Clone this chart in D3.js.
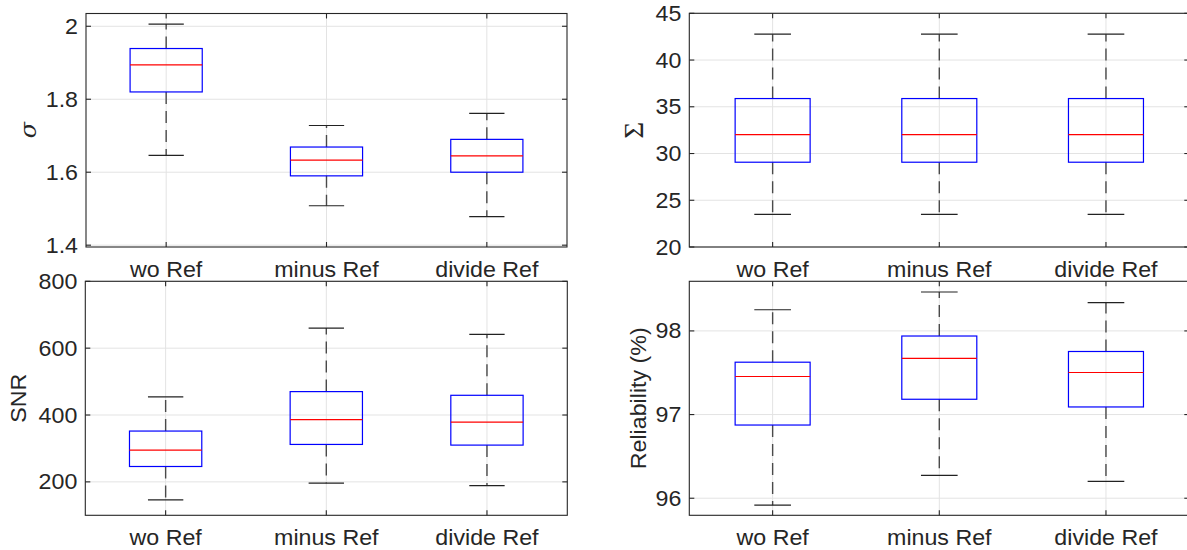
<!DOCTYPE html>
<html>
<head>
<meta charset="utf-8">
<script src="https://cdn.jsdelivr.net/npm/d3@7"></script>
<style>
  html, body { margin: 0; padding: 0; background: #fff; overflow: hidden; }
  svg { display: block; }
  text { font-family: "Liberation Sans", Arial, sans-serif; fill: #262626; }
</style>
</head>
<body>
<svg id="chart" width="1187" height="550"></svg>
<script>
// Categories shared by every panel
const categories = ["wo Ref", "minus Ref", "divide Ref"];

// Five-number summaries per category: [lower whisker, Q1, median, Q3, upper whisker]
const sigmaStats = [
  [1.646, 1.820, 1.894, 1.939, 2.006],
  [1.508, 1.590, 1.633, 1.669, 1.728],
  [1.478, 1.600, 1.645, 1.690, 1.761]
];
const sumStats = [
  [23.50, 29.07, 32.02, 35.88, 42.77],
  [23.50, 29.07, 32.02, 35.88, 42.77],
  [23.50, 29.07, 32.02, 35.88, 42.77]
];
const snrStats = [
  [146, 246, 295, 352, 454],
  [196, 312, 386, 470, 660],
  [189, 310, 379, 459, 641]
];
const reliabilityStats = [
  [95.917, 96.875, 97.455, 97.626, 98.253],
  [96.273, 97.183, 97.671, 97.939, 98.465],
  [96.201, 97.091, 97.503, 97.754, 98.338]
];

// Tick values and their labels
const sigmaTicks = [1.4, 1.6, 1.8, 2.0];
const sigmaTickLabels = ["1.4", "1.6", "1.8", "2"];
const sumTicks = [20, 25, 30, 35, 40, 45];
const sumTickLabels = ["20", "25", "30", "35", "40", "45"];
const snrTicks = [200, 400, 600, 800];
const snrTickLabels = ["200", "400", "600", "800"];
const reliabilityTicks = [96, 97, 98];
const reliabilityTickLabels = ["96", "97", "98"];

const panels = [
  { stats: sigmaStats, ticks: sigmaTicks, labels: sigmaTickLabels, domain: [1.395, 2.035],
    box: { left: 86, right: 567, top: 13.5, bottom: 247 },
    ylabel: "σ", ylabelFont: "italic 22px 'DejaVu Serif', 'Liberation Serif', serif", ylabelX: 28 },
  { stats: sumStats, ticks: sumTicks, labels: sumTickLabels, domain: [20, 45],
    box: { left: 689.3, right: 1189.3, top: 13.3, bottom: 247 },
    ylabel: "Σ", ylabelFont: "27px 'Liberation Serif', 'DejaVu Serif', serif", ylabelX: 634 },
  { stats: snrStats, ticks: snrTicks, labels: snrTickLabels, domain: [100, 800],
    box: { left: 85.3, right: 567.3, top: 281.3, bottom: 515.3 },
    ylabel: "SNR", ylabelFont: "21.5px 'Liberation Sans', Arial, sans-serif", ylabelX: 18 },
  { stats: reliabilityStats, ticks: reliabilityTicks, labels: reliabilityTickLabels, domain: [95.796, 98.593],
    box: { left: 689.3, right: 1189.3, top: 281.3, bottom: 515.3 },
    ylabel: "Reliability (%)", ylabelFont: "21.5px 'Liberation Sans', Arial, sans-serif", ylabelX: 638 }
];

const svg = d3.select("#chart");
const frameColor = "#262626";
const gridColor = "#e3e3e3";
const tickLen = 5;
const boxHalf = 0.225;   // half box width, in category units
const capHalf = 0.11;    // half whisker-cap width
const stretch = 1.08;    // horizontal stretch applied to the text glyphs

panels.forEach(p => {
  const b = p.box;
  const x = d3.scaleLinear().domain([0.5, categories.length + 0.5]).range([b.left, b.right]);
  const y = d3.scaleLinear().domain(p.domain).range([b.bottom, b.top]);
  const g = svg.append("g");
  const idx = d3.range(categories.length);

  // grid
  g.selectAll(".gy").data(p.ticks).join("line")
    .attr("x1", b.left).attr("x2", b.right)
    .attr("y1", d => y(d)).attr("y2", d => y(d))
    .attr("stroke", gridColor).attr("stroke-width", 1);
  g.selectAll(".gx").data(idx).join("line")
    .attr("x1", i => x(i + 1)).attr("x2", i => x(i + 1))
    .attr("y1", b.top).attr("y2", b.bottom)
    .attr("stroke", gridColor).attr("stroke-width", 1);

  // whiskers
  const whisk = g.append("g").attr("stroke", "#4a4a4a").attr("stroke-width", 1.4)
    .attr("stroke-dasharray", "12,7");
  whisk.selectAll(".wu").data(idx).join("line")
    .attr("x1", i => x(i + 1)).attr("x2", i => x(i + 1))
    .attr("y1", i => y(p.stats[i][3])).attr("y2", i => y(p.stats[i][4]));
  whisk.selectAll(".wl").data(idx).join("line")
    .attr("x1", i => x(i + 1)).attr("x2", i => x(i + 1))
    .attr("y1", i => y(p.stats[i][1])).attr("y2", i => y(p.stats[i][0]));

  // whisker caps
  const caps = g.append("g").attr("stroke", "#222").attr("stroke-width", 1.2);
  [0, 4].forEach(k => {
    caps.selectAll(".c" + k).data(idx).join("line")
      .attr("x1", i => x(i + 1 - capHalf)).attr("x2", i => x(i + 1 + capHalf))
      .attr("y1", i => y(p.stats[i][k])).attr("y2", i => y(p.stats[i][k]));
  });

  // boxes
  g.selectAll(".box").data(idx).join("rect")
    .attr("x", i => x(i + 1 - boxHalf))
    .attr("width", i => x(i + 1 + boxHalf) - x(i + 1 - boxHalf))
    .attr("y", i => y(p.stats[i][3]))
    .attr("height", i => y(p.stats[i][1]) - y(p.stats[i][3]))
    .attr("fill", "none").attr("stroke", "#0000ff").attr("stroke-width", 1.2);

  // medians
  g.selectAll(".med").data(idx).join("line")
    .attr("x1", i => x(i + 1 - boxHalf)).attr("x2", i => x(i + 1 + boxHalf))
    .attr("y1", i => y(p.stats[i][2])).attr("y2", i => y(p.stats[i][2]))
    .attr("stroke", "#ff0000").attr("stroke-width", 1.2);

  // frame
  g.append("rect")
    .attr("x", b.left).attr("y", b.top)
    .attr("width", b.right - b.left).attr("height", b.bottom - b.top)
    .attr("fill", "none").attr("stroke", frameColor).attr("stroke-width", 1.1);

  // inward ticks on all four sides
  const tk = g.append("g").attr("stroke", frameColor).attr("stroke-width", 1.1);
  p.ticks.forEach(v => {
    tk.append("line").attr("x1", b.left).attr("x2", b.left + tickLen).attr("y1", y(v)).attr("y2", y(v));
    tk.append("line").attr("x1", b.right).attr("x2", b.right - tickLen).attr("y1", y(v)).attr("y2", y(v));
  });
  idx.forEach(i => {
    tk.append("line").attr("x1", x(i + 1)).attr("x2", x(i + 1)).attr("y1", b.bottom).attr("y2", b.bottom - tickLen);
    tk.append("line").attr("x1", x(i + 1)).attr("x2", x(i + 1)).attr("y1", b.top).attr("y2", b.top + tickLen);
  });

  // y tick labels
  g.selectAll(".yl").data(p.ticks).join("text")
    .attr("transform", d => `translate(${b.left - 8},${y(d)}) scale(${stretch},1)`)
    .attr("dy", "0.35em").attr("text-anchor", "end")
    .style("font-size", "21.5px")
    .text((d, i) => p.labels[i]);

  // category labels
  g.selectAll(".xl").data(idx).join("text")
    .attr("transform", i => `translate(${x(i + 1)},${b.bottom + 30}) scale(${stretch},1)`)
    .attr("text-anchor", "middle")
    .style("font-size", "21.5px")
    .text(i => categories[i]);

  // y-axis title
  g.append("text")
    .attr("transform", `translate(${p.ylabelX},${(b.top + b.bottom) / 2}) rotate(-90) scale(${stretch},1)`)
    .attr("text-anchor", "middle").attr("dy", "0.35em")
    .style("font", p.ylabelFont)
    .text(p.ylabel);
});
</script>
</body>
</html>
